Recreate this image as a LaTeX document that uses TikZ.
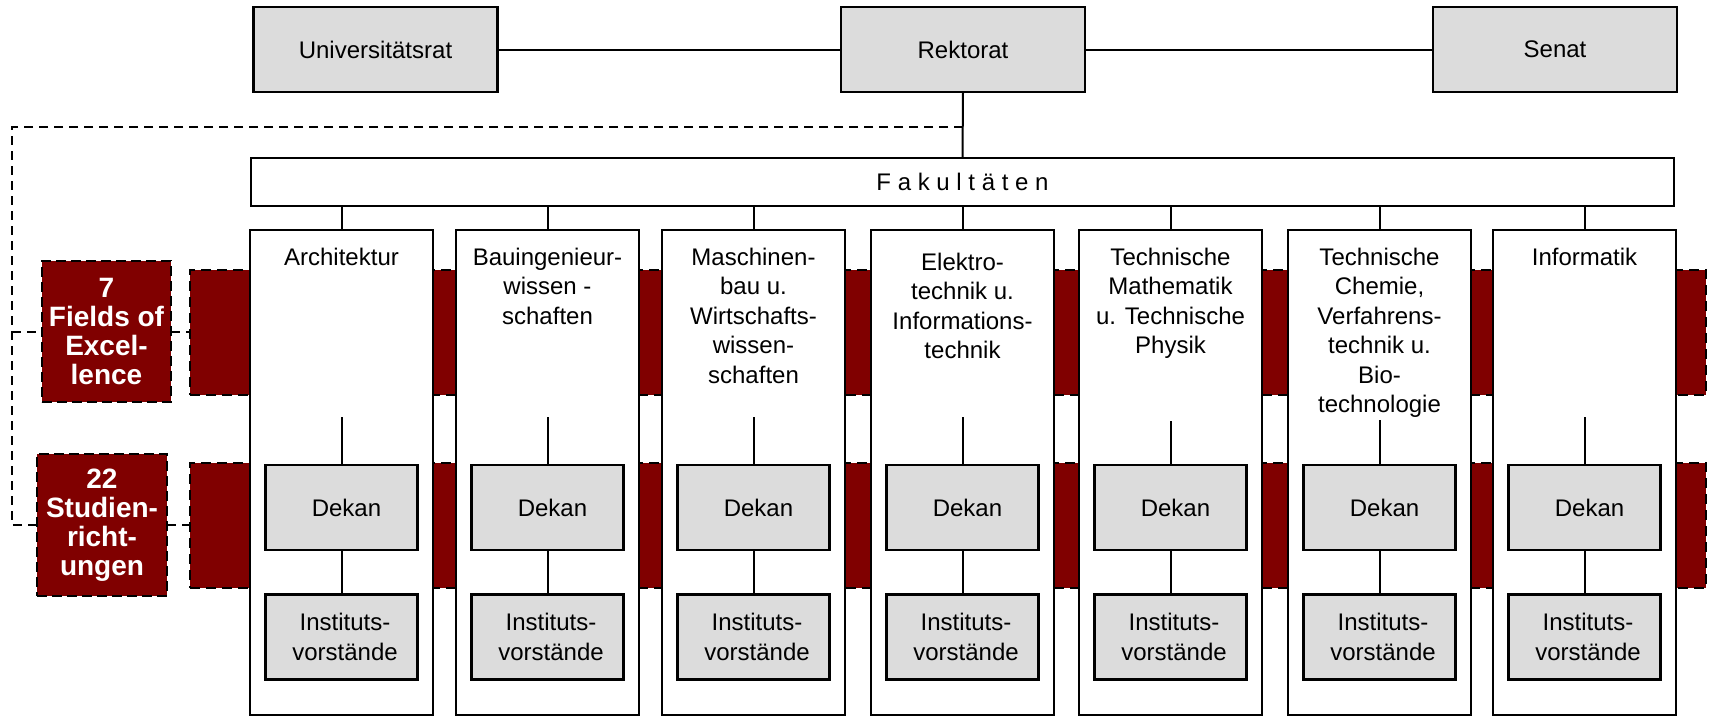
\documentclass[tikz,border=0pt]{standalone}
\usepackage{fontspec}
\setmainfont{Liberation Sans}
\definecolor{boxgray}{RGB}{220,220,220}
\definecolor{darkred}{RGB}{128,0,0}

\begin{document}
\begin{tikzpicture}[x=1pt,y=-1pt,
  every node/.style={inner sep=0pt, outer sep=0pt, font=\fontsize{24}{29.5}\selectfont},
  topbox/.style={draw=black, line width=2.5pt, fill=boxgray, minimum width=244pt, minimum height=85pt},
  fakbox/.style={draw=black, line width=2.5pt, fill=white, minimum width=1423pt, minimum height=48pt},
  column/.style={draw=black, line width=2.5pt, fill=white, minimum width=183pt, minimum height=485pt, anchor=north west},
  facname/.style={anchor=north, align=center},
  subbox/.style={draw=black, line width=2.5pt, fill=boxgray, minimum width=152pt, minimum height=85pt, align=center},
  band/.style={draw=black, line width=2.5pt, dash pattern=on 10pt off 6pt, fill=darkred, anchor=north west, minimum width=1516pt, minimum height=125pt},
  markerbox/.style={draw=black, line width=2.5pt, dash pattern=on 10pt off 5pt, fill=darkred, text=white, align=center, font=\bfseries\fontsize{28}{29}\selectfont},
  link/.style={line width=2pt},
  dashlink/.style={line width=2pt, dash pattern=on 9pt off 6pt}]

\useasboundingbox (0,0) rectangle (1711,718);

% top level bodies
\node[topbox] (unirat) at (375.5,49.5) {Universitätsrat};
\node[topbox] (rek) at (963,49.5) {Rektorat};
\node[topbox] (senat) at (1555,49.5) {Senat};
\draw[link] (unirat.east) -- (rek.west);
\draw[link] (rek.east) -- (senat.west);

% faculties bar
\node[fakbox] (fak) at (962.5,182) {F a k u l t ä t e n};
\draw[link] (rek.south) -- (fak.north);

% dark bands behind the faculty columns
\node[band] (band1) at (190,270) {};
\node[band] (band2) at (190,463) {};

% faculty columns
\foreach \i/\L/\ty/\ly/\txt in {
  1/250/248/417/{Architektur},
  2/456/248/417/{Bauingenieur-\\wissen -\\schaften},
  3/662/248/417/{Maschinen-\\bau u.\\Wirtschafts-\\wissen-\\schaften},
  4/871/253/417/{Elektro-\\technik u.\\Informations-\\technik},
  5/1079/248/421/{Technische\\Mathematik\\u. Technische\\Physik},
  6/1288/248/420/{Technische\\Chemie,\\Verfahrens-\\technik u.\\Bio-\\technologie},
  7/1493/248/417/{Informatik}}{
  \node[column] (col\i) at (\L,230) {};
  \node[facname] (title\i) at (\L+91.5,\ty) {\txt};
  \node[subbox] (dekan\i) at (\L+91.5,507.5) {\hspace*{10pt}Dekan};
  \node[subbox] (inst\i) at (\L+91.5,637) {\hspace*{7pt}Instituts-\\\hspace*{7pt}vorstände};
  \coordinate (top\i) at (\L+91.5,\ly);
  \draw[link] (col\i.north |- fak.south) -- (col\i.north);
  \draw[link] (top\i) -- (dekan\i.north);
  \draw[link] (dekan\i.south) -- (inst\i.north);
}

% left-hand markers
\node[markerbox, minimum width=129pt, minimum height=141pt] (fields) at (106.5,331.5) {7\\Fields of\\Excel-\\lence};
\node[markerbox, minimum width=130pt, minimum height=142pt] (studien) at (102,525) {22\\Studien-\\richt-\\ungen};

% dashed links from the Rektorat line
\coordinate (rjoin) at (963,127);
\coordinate (dcorner) at (12,127);
\draw[dashlink] (rjoin) -- (dcorner) |- (studien.west);
\draw[dashlink] (dcorner |- fields.west) -- (fields.west);
\draw[dashlink] (fields.east) -- (band1.west |- fields.east);
\draw[dashlink] (studien.east) -- (band2.west |- studien.east);
\end{tikzpicture}
\end{document}
